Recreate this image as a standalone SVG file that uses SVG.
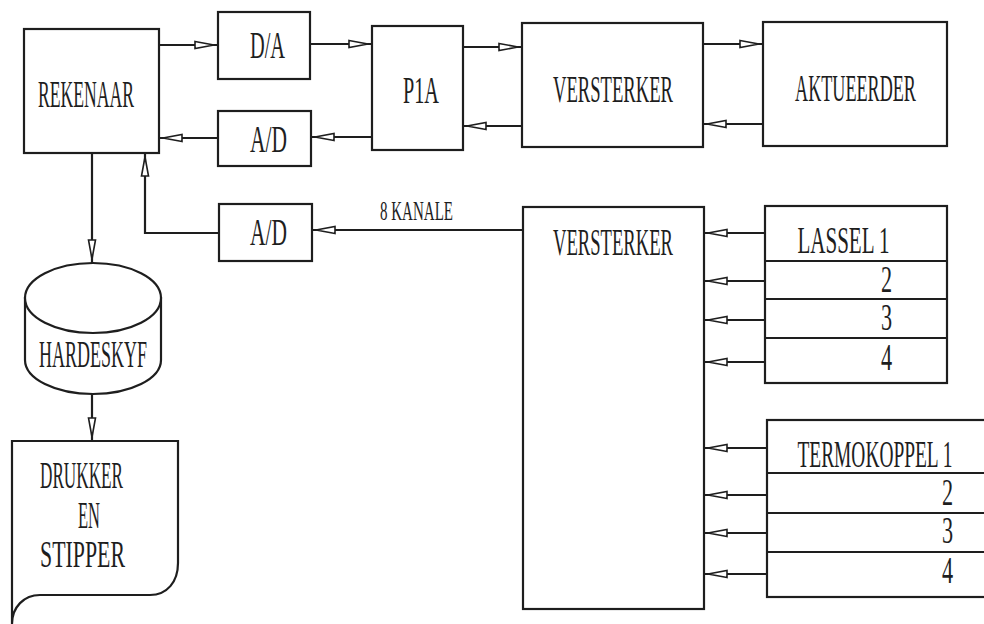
<svg xmlns="http://www.w3.org/2000/svg" width="984" height="624" viewBox="0 0 984 624">
<style>
.box{fill:#fff;stroke:#1e1e1e;stroke-width:2.2}
.sep{fill:none;stroke:#1e1e1e;stroke-width:1.8}
.con{fill:none;stroke:#1e1e1e;stroke-width:2.2;marker-end:url(#ah)}
.t{font-family:"Liberation Serif","DejaVu Serif",serif;fill:#1e1e1e;font-size:37px;text-anchor:middle}
.s{font-size:28px}
</style>
<defs>
<marker id="ah" markerUnits="userSpaceOnUse" viewBox="0 0 26 10" markerWidth="26" markerHeight="10" refX="24" refY="5" orient="auto">
<path d="M1,1.5 L20,5 L1,8.5 Z" fill="#fff" stroke="#1e1e1e" stroke-width="1.6"/>
</marker>
</defs>
<rect width="984" height="624" fill="#fff"/>
<g id="connectors">
<line class="con" x1="159" y1="45" x2="218" y2="45"/>
<line class="con" x1="310" y1="44" x2="372" y2="44"/>
<line class="con" x1="463" y1="47" x2="522" y2="47"/>
<line class="con" x1="703" y1="44" x2="763" y2="44"/>
<line class="con" x1="763" y1="124" x2="703" y2="124"/>
<line class="con" x1="522" y1="126" x2="463" y2="126"/>
<line class="con" x1="372" y1="137" x2="311" y2="137"/>
<line class="con" x1="218" y1="138" x2="159" y2="138"/>
<line class="con" x1="92" y1="153" x2="92" y2="263"/>
<polyline class="con" points="219,233 145,233 145,153"/>
<line class="con" x1="523" y1="230" x2="312" y2="230"/>
<line class="con" x1="92" y1="394" x2="92" y2="441"/>
<line class="con" x1="765" y1="233" x2="704" y2="233"/>
<line class="con" x1="765" y1="281" x2="704" y2="281"/>
<line class="con" x1="765" y1="320" x2="704" y2="320"/>
<line class="con" x1="765" y1="362" x2="704" y2="362"/>
<line class="con" x1="767" y1="448" x2="704" y2="448"/>
<line class="con" x1="767" y1="495" x2="704" y2="495"/>
<line class="con" x1="767" y1="533" x2="704" y2="533"/>
<line class="con" x1="767" y1="574" x2="704" y2="574"/>
<text class="t s" transform="translate(416.5,220) scale(0.537,1)">8 KANALE</text>
</g>
<g id="rekenaar">
<rect class="box" x="24" y="29" width="135" height="124"/>
<text class="t" transform="translate(86,107) scale(0.477,1)">REKENAAR</text>
</g>
<g id="da">
<rect class="box" x="218" y="12" width="92" height="67"/>
<text class="t" transform="translate(267.5,58) scale(0.55,1)">D/A</text>
</g>
<g id="ad1">
<rect class="box" x="218" y="111" width="93" height="55"/>
<text class="t" transform="translate(268.5,152) scale(0.58,1)">A/D</text>
</g>
<g id="pia">
<rect class="box" x="372" y="26" width="91" height="124"/>
<text class="t" transform="translate(421,103) scale(0.547,1)">P1A</text>
</g>
<g id="versterker1">
<rect class="box" x="522" y="23" width="181" height="124"/>
<text class="t" transform="translate(613,102) scale(0.503,1)">VERSTERKER</text>
</g>
<g id="aktueerder">
<rect class="box" x="763" y="22" width="184" height="124"/>
<text class="t" transform="translate(855.5,101) scale(0.49,1)">AKTUEERDER</text>
</g>
<g id="ad2">
<rect class="box" x="219" y="204" width="93" height="57"/>
<text class="t" transform="translate(268.5,245) scale(0.58,1)">A/D</text>
</g>
<g id="versterker2">
<rect class="box" x="523" y="207" width="181" height="402"/>
<text class="t" transform="translate(613,255) scale(0.503,1)">VERSTERKER</text>
</g>
<g id="lassel">
<rect class="box" x="765" y="206" width="182" height="177"/>
<line class="sep" x1="765" y1="261" x2="947" y2="261"/>
<line class="sep" x1="765" y1="299" x2="947" y2="299"/>
<line class="sep" x1="765" y1="338" x2="947" y2="338"/>
<text class="t" transform="translate(843.5,253) scale(0.569,1)">LASSEL 1</text>
<text class="t" transform="translate(886.5,292) scale(0.6,1)">2</text>
<text class="t" transform="translate(886.5,330) scale(0.6,1)">3</text>
<text class="t" transform="translate(886.5,370) scale(0.6,1)">4</text>
</g>
<g id="termokoppel">
<rect class="box" x="767" y="420" width="230" height="177"/>
<line class="sep" x1="767" y1="473" x2="984" y2="473"/>
<line class="sep" x1="767" y1="513" x2="984" y2="513"/>
<line class="sep" x1="767" y1="552" x2="984" y2="552"/>
<text class="t" transform="translate(875,467) scale(0.525,1)">TERMOKOPPEL 1</text>
<text class="t" transform="translate(947.5,505) scale(0.6,1)">2</text>
<text class="t" transform="translate(947.5,543) scale(0.6,1)">3</text>
<text class="t" transform="translate(947.5,583) scale(0.6,1)">4</text>
</g>
<g id="hardeskyf">
<path class="box" d="M25,298 L25,360 A68,34 0 0 0 161,360 L161,298 Z"/>
<ellipse class="box" cx="93" cy="298" rx="68" ry="35"/>
<text class="t" transform="translate(93,367) scale(0.486,1)">HARDESKYF</text>
</g>
<g id="drukker">
<path class="box" d="M12,624 L12,441 L178,441 L178,563 C178,582 167,595 150,595 L40,595 C24,595 12,607 12,624 Z"/>
<text class="t" transform="translate(81.5,488) scale(0.464,1)">DRUKKER</text>
<text class="t" transform="translate(89,528) scale(0.446,1)">EN</text>
<text class="t" transform="translate(82.5,567) scale(0.59,1)">STIPPER</text>
</g>
</svg>
